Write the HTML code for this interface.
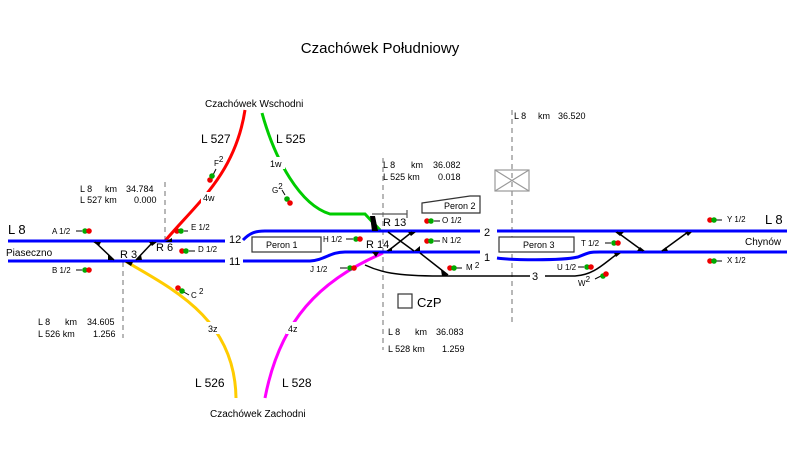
<!DOCTYPE html>
<html><head><meta charset="utf-8"><style>
html,body{margin:0;padding:0;background:#fff;}
svg{display:block;font-family:"Liberation Sans",sans-serif;}
</style></head><body>
<svg width="787" height="452" viewBox="0 0 787 452" xmlns="http://www.w3.org/2000/svg">
<text x="380" y="53" font-size="15" text-anchor="middle" fill="#000">Czachówek Południowy</text>

<g stroke="#888" stroke-width="1.2" stroke-dasharray="5,4" fill="none">
<line x1="165" y1="182" x2="165" y2="241"/>
<line x1="123" y1="262" x2="123" y2="338"/>
<line x1="383" y1="158" x2="383" y2="350"/>
<line x1="512" y1="110" x2="512" y2="322"/>
</g>

<path d="M165,241 C195,205 235,175 245,110" stroke="#f00" stroke-width="3" fill="none"/>
<path d="M262,113 C275,160 300,205 330,214 L365,214 L380,230" stroke="#0c0" stroke-width="3" fill="none"/>
<path d="M125,261 C175,290 235,320 236,398" stroke="#fc0" stroke-width="3" fill="none"/>
<path d="M383,253 C320,280 280,320 265,398" stroke="#f0f" stroke-width="3" fill="none"/>

<g fill="#fff">
<rect x="201" y="192" width="17" height="12"/>
<rect x="268" y="157" width="17" height="12"/>
<rect x="206" y="322" width="17" height="12"/>
<rect x="286" y="322" width="17" height="12"/>
</g>

<path d="M365,265 C380,272 395,276 440,276 L530,276" stroke="#000" stroke-width="1.5" fill="none"/>
<path d="M545,276 L575,276 C595,275 605,262 620,252" stroke="#000" stroke-width="1.5" fill="none"/>

<g stroke="#00f" stroke-width="3" fill="none">
<line x1="8" y1="241" x2="225" y2="241"/>
<line x1="8" y1="261" x2="225" y2="261"/>
<path d="M243,240 C250,233 255,231 265,231 L480,231"/>
<path d="M243,261 L310,261 C325,260 330,252 345,252 L480,252"/>
<line x1="497" y1="231" x2="787" y2="231"/>
<path d="M497,258 C510,260 560,261 578,257 C590,252 590,252 600,252 L787,252"/>
</g>

<g stroke="#000" stroke-width="1.5" fill="none">
<line x1="95" y1="242" x2="114" y2="260"/>
<line x1="153" y1="242" x2="136" y2="260"/>
<line x1="388" y1="232" x2="414" y2="251"/>
<line x1="412" y1="232" x2="388" y2="251"/>
<line x1="420" y1="253" x2="448" y2="275"/>
<line x1="617" y1="232" x2="643" y2="251"/>
<line x1="688" y1="232" x2="662" y2="251"/>
</g>
<g fill="#000">
<polygon points="93,242 101,242 99,246"/>
<polygon points="108,255 114,260 108,260"/>
<polygon points="149,242 157,242 152,246"/>
<polygon points="141,255 136,260 142,260"/>
<polygon points="165,242 172,242 172,238"/>
<polygon points="125,262 133,262 131,266"/>
<polygon points="370,216 375,216 378,231 372,231"/>
<polygon points="372,252 379,252 376,257"/>
<polygon points="408,232 416,232 411,236"/>
<polygon points="386,251 392,251 392,247"/>
<polygon points="414,251 420,251 420,246"/>
<polygon points="441,270 448,276 442,276"/>
<polygon points="615,232 624,232 620,236"/>
<polygon points="685,232 692,232 688,236"/>
<polygon points="637,251 645,251 640,247"/>
<polygon points="661,251 668,251 666,247"/>
<polygon points="614,253 621,253 616,257"/>
</g>
<path d="M372,214 L407,214 M407,210 L407,218" stroke="#555" stroke-width="1.2"/>

<g stroke="#333" stroke-width="1.2" fill="#fff">
<rect x="252" y="237" width="69" height="15"/>
<path d="M422,203 L470,196 L480,196 L480,213 L422,213 Z"/>
<rect x="499" y="237" width="75" height="15"/>
<rect x="398" y="294" width="14" height="14"/>
</g>
<g stroke="#999" stroke-width="1.2" fill="none">
<rect x="495" y="170" width="34" height="21"/>
<line x1="495" y1="170" x2="529" y2="191"/><line x1="529" y1="170" x2="495" y2="191"/>
</g>

<g fill="#000" font-size="9">
<text x="266" y="248">Peron 1</text>
<text x="444" y="209">Peron 2</text>
<text x="523" y="248">Peron 3</text>
<text x="8" y="234" font-size="13">L 8</text>
<text x="6" y="256" font-size="10">Piaseczno</text>
<text x="765" y="224" font-size="13">L 8</text>
<text x="745" y="245" font-size="10">Chynów</text>
<text x="229" y="243" font-size="11">12</text>
<text x="229" y="265" font-size="11">11</text>
<text x="484" y="236" font-size="11">2</text>
<text x="484" y="261" font-size="11">1</text>
<text x="532" y="280" font-size="11">3</text>
<text x="120" y="258" font-size="11">R 3</text>
<text x="156" y="251" font-size="11">R 6</text>
<text x="383" y="226" font-size="11">R 13</text>
<text x="366" y="248" font-size="11">R 14</text>
<text x="417" y="307" font-size="13">CzP</text>
<text x="205" y="107" font-size="10">Czachówek Wschodni</text>
<text x="210" y="417" font-size="10">Czachówek Zachodni</text>
<text x="201" y="143" font-size="12">L 527</text>
<text x="276" y="143" font-size="12">L 525</text>
<text x="195" y="387" font-size="12">L 526</text>
<text x="282" y="387" font-size="12">L 528</text>
<text x="203" y="201">4w</text>
<text x="270" y="167">1w</text>
<text x="208" y="332">3z</text>
<text x="288" y="332">4z</text>
<text x="80" y="192">L 8</text><text x="105" y="192">km</text><text x="126" y="192">34.784</text>
<text x="80" y="203">L 527 km</text><text x="134" y="203">0.000</text>
<text x="38" y="325">L 8</text><text x="65" y="325">km</text><text x="87" y="325">34.605</text>
<text x="38" y="337">L 526 km</text><text x="93" y="337">1.256</text>
<text x="383" y="168">L 8</text><text x="411" y="168">km</text><text x="433" y="168">36.082</text>
<text x="383" y="180">L 525 km</text><text x="438" y="180">0.018</text>
<text x="388" y="335">L 8</text><text x="415" y="335">km</text><text x="436" y="335">36.083</text>
<text x="388" y="352">L 528 km</text><text x="442" y="352">1.259</text>
<text x="514" y="119">L 8</text><text x="538" y="119">km</text><text x="558" y="119">36.520</text>
<g font-size="8">
<text x="52" y="234">A 1/2</text>
<text x="52" y="273">B 1/2</text>
<text x="191" y="230">E 1/2</text>
<text x="198" y="252">D 1/2</text>
<text x="191" y="298">C <tspan dy="-4">2</tspan></text>
<text x="214" y="166">F<tspan dy="-4">2</tspan></text>
<text x="272" y="193">G<tspan dy="-4">2</tspan></text>
<text x="323" y="242">H 1/2</text>
<text x="310" y="272">J 1/2</text>
<text x="442" y="223">O 1/2</text>
<text x="442" y="243">N 1/2</text>
<text x="466" y="270">M <tspan dy="-2">2</tspan></text>
<text x="581" y="246">T 1/2</text>
<text x="557" y="270">U 1/2</text>
<text x="578" y="286">W<tspan dy="-4">2</tspan></text>
<text x="727" y="222">Y 1/2</text>
<text x="727" y="263">X 1/2</text>
</g>
</g>

<g stroke="#000" stroke-width="1">
<line x1="76" y1="231" x2="82" y2="231"/><line x1="76" y1="270" x2="82" y2="270"/>
<line x1="184" y1="231" x2="188" y2="231"/><line x1="189" y1="251" x2="195" y2="251"/>
<line x1="182" y1="291" x2="189" y2="295"/>
<line x1="213" y1="175" x2="216" y2="169"/>
<line x1="285" y1="195" x2="282" y2="190"/>
<line x1="346" y1="239" x2="353" y2="239"/>
<line x1="340" y1="268" x2="347" y2="268"/>
<line x1="434" y1="221" x2="440" y2="221"/>
<line x1="434" y1="241" x2="440" y2="241"/>
<line x1="456" y1="268" x2="462" y2="268"/>
<line x1="605" y1="243" x2="611" y2="243"/>
<line x1="578" y1="267" x2="584" y2="267"/>
<line x1="595" y1="279" x2="601" y2="276"/>
<line x1="716" y1="220" x2="722" y2="220"/>
<line x1="716" y1="261" x2="722" y2="261"/>
</g>
<g>
<circle cx="85" cy="231" r="2.8" fill="#0a0"/><circle cx="89" cy="231" r="2.8" fill="#e00"/>
<circle cx="85" cy="270" r="2.8" fill="#0a0"/><circle cx="89" cy="270" r="2.8" fill="#e00"/>
<circle cx="177" cy="231" r="2.8" fill="#e00"/><circle cx="181" cy="231" r="2.8" fill="#0a0"/>
<circle cx="182" cy="251" r="2.8" fill="#e00"/><circle cx="186" cy="251" r="2.8" fill="#0a0"/>
<circle cx="178" cy="288" r="2.8" fill="#e00"/><circle cx="182" cy="291" r="2.8" fill="#0a0"/>
<circle cx="210" cy="180" r="2.8" fill="#e00"/><circle cx="212" cy="176" r="2.8" fill="#0a0"/>
<circle cx="287" cy="199" r="2.8" fill="#0a0"/><circle cx="290" cy="203" r="2.8" fill="#e00"/>
<circle cx="356" cy="239" r="2.8" fill="#0a0"/><circle cx="360" cy="239" r="2.8" fill="#e00"/>
<circle cx="350" cy="268" r="2.8" fill="#0a0"/><circle cx="354" cy="268" r="2.8" fill="#e00"/>
<circle cx="427" cy="221" r="2.8" fill="#e00"/><circle cx="431" cy="221" r="2.8" fill="#0a0"/>
<circle cx="427" cy="241" r="2.8" fill="#e00"/><circle cx="431" cy="241" r="2.8" fill="#0a0"/>
<circle cx="450" cy="268" r="2.8" fill="#e00"/><circle cx="454" cy="268" r="2.8" fill="#0a0"/>
<circle cx="614" cy="243" r="2.8" fill="#0a0"/><circle cx="618" cy="243" r="2.8" fill="#e00"/>
<circle cx="587" cy="267" r="2.8" fill="#0a0"/><circle cx="591" cy="267" r="2.8" fill="#e00"/>
<circle cx="603" cy="276" r="2.8" fill="#0a0"/><circle cx="606" cy="274" r="2.8" fill="#e00"/>
<circle cx="710" cy="220" r="2.8" fill="#e00"/><circle cx="714" cy="220" r="2.8" fill="#0a0"/>
<circle cx="710" cy="261" r="2.8" fill="#e00"/><circle cx="714" cy="261" r="2.8" fill="#0a0"/>
</g>
</svg>
</body></html>
